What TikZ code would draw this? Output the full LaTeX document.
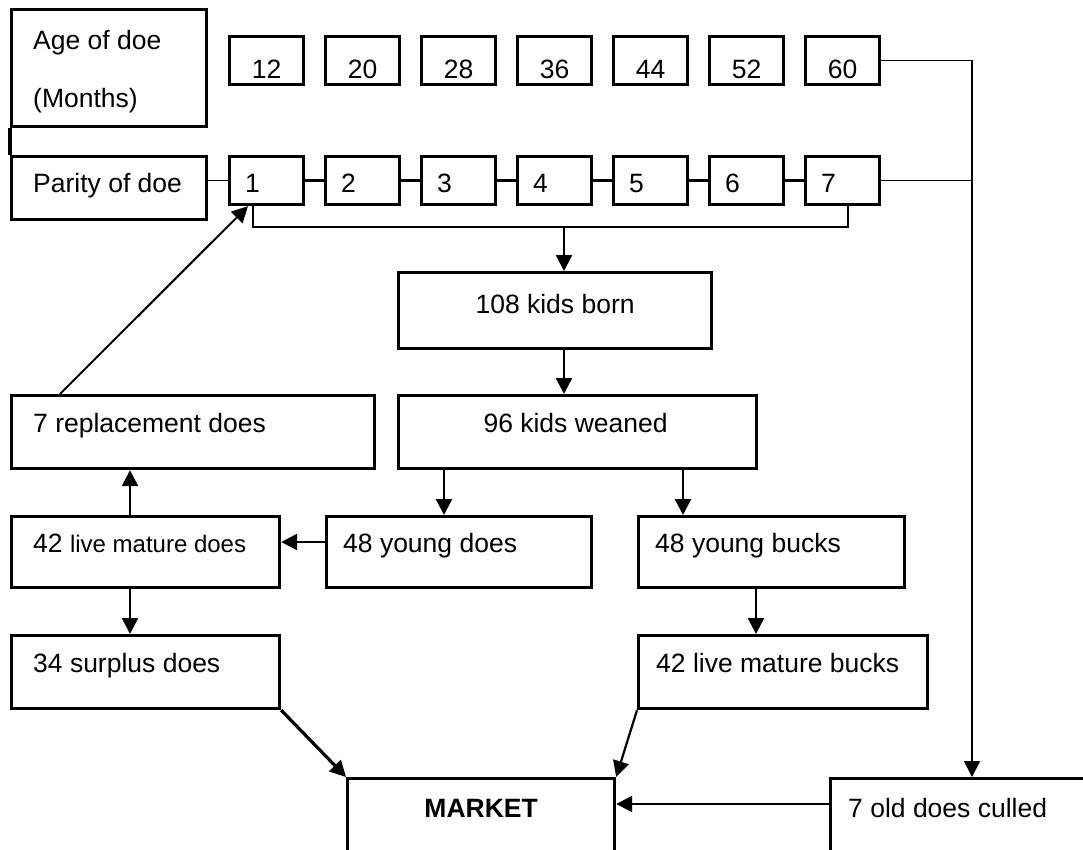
\documentclass[tikz,border=0pt]{standalone}
\usepackage{fontspec}
\setmainfont{Liberation Sans}
\usetikzlibrary{arrows.meta,calc}
\begin{document}
\begin{tikzpicture}[x=1pt,y=-1pt,
  box/.style={draw, line width=3.2pt, inner sep=0pt, anchor=north west},
  txt/.style={inner sep=0pt, font=\fontsize{26.5}{31}\selectfont},
  arr/.style={line width=2.4pt, -{Triangle[length=16pt,width=16pt]}},
  thinln/.style={line width=1.6pt},
  midln/.style={line width=2.8pt},
]
\fill[white] (0,0) rectangle (1083,850);
\useasboundingbox (0,0) rectangle (1083,850);
\clip (0,0) rectangle (1083,850);

% left header boxes
\node[box, minimum width=195pt, minimum height=117pt] (age) at (10,8) {};
\node[box, minimum width=195pt, minimum height=63pt] (par) at (10,155) {};
\node[txt, anchor=base west] (aget1) at (33,50) {Age of doe};
\node[txt, anchor=base west] (aget2) at (33,108) {(Months)};
\node[txt, anchor=base west] (part) at (33,193) {Parity of doe};

% age row
\foreach \v [count=\i from 0] in {12,20,28,36,44,52,60}{
  \node[box, minimum width=74pt, minimum height=48pt] (a\i) at (228+96*\i,35) {};
  \node[txt, anchor=base] (a\i t) at ($(a\i.south)+(0,-8)$) {\v};
}
% parity row
\foreach \v [count=\i from 0] in {1,...,7}{
  \node[box, minimum width=74pt, minimum height=48pt] (p\i) at (228+96*\i,155) {};
  \node[txt, anchor=base west] (p\i t) at ($(p\i.north west)+(17,38)$) {\v};
}

% flow boxes
\node[box, minimum width=313pt, minimum height=76pt] (b108) at (397,271) {};
\node[txt, anchor=base] (b108t) at ($(b108.north)+(0,42)$) {108 kids born};
\node[box, minimum width=358pt, minimum height=73pt] (w96) at (397,394) {};
\node[txt, anchor=base] (w96t) at ($(w96.north)+(-2,38)$) {96 kids weaned};
\node[box, minimum width=363pt, minimum height=73pt] (rep) at (10,394) {};
\node[txt, anchor=base west] (rept) at ($(rep.north west)+(23,38)$) {7 replacement does};
\node[box, minimum width=268pt, minimum height=71pt] (l42) at (10,515) {};
\node[txt, anchor=base west] (l42t) at ($(l42.north west)+(23,37)$) {42 {\fontsize{24}{28}\selectfont live mature does}};
\node[box, minimum width=265pt, minimum height=71pt] (yd) at (325,515) {};
\node[txt, anchor=base west] (ydt) at ($(yd.north west)+(18,37)$) {48 young does};
\node[box, minimum width=266pt, minimum height=71pt] (yb) at (637,515) {};
\node[txt, anchor=base west] (ybt) at ($(yb.north west)+(18,37)$) {48 young bucks};
\node[box, minimum width=268pt, minimum height=73pt] (s34) at (10,634) {};
\node[txt, anchor=base west] (s34t) at ($(s34.north west)+(23,38)$) {34 surplus does};
\node[box, minimum width=289pt, minimum height=73pt] (b42) at (637,634) {};
\node[txt, anchor=base west] (b42t) at ($(b42.north west)+(19,38)$) {42 live mature bucks};
\node[box, minimum width=267pt, minimum height=120pt] (mk) at (346,777) {};
\node[txt, anchor=base, font=\fontsize{26.5}{31}\selectfont\bfseries] (mkt) at ($(mk.north)+(0,40)$) {MARKET};
\node[box, minimum width=300pt, minimum height=120pt] (od) at (829,777) {};
\node[txt, anchor=base west] (odt) at ($(od.north west)+(19,40)$) {7 old does culled};

% helper coordinates
\coordinate (brL) at (253,227);
\coordinate (brR) at (848,227);
\coordinate (brM) at (564,227);
\coordinate (cx1) at (444,0);
\coordinate (cx2) at (683,0);
\coordinate (cx3) at (130,0);
\coordinate (cx4) at (756,0);
\coordinate (cy1) at (0,542);
\coordinate (cy2) at (0,804);
\coordinate (rt) at (972,0);

% header connectors
\draw[line width=3.2pt] (age.south west) -- (par.north west);
\draw[thinln] (par.east |- p0.west) -- (p0.west);
\foreach \i [evaluate=\i as \j using int(\i+1)] in {0,...,5}{
  \draw[midln] (p\i.east) -- (p\j.west);
}
\draw[thinln] (p0.south -| brL) -- (brL) -- (brR) -- (p6.south -| brR);
\draw[thinln] (a6.east) -- (a6.east -| rt) -- (p6.east -| rt);
\draw[thinln] (p6.east) -- (p6.east -| rt);
\draw[arr, line width=2pt] (p6.east -| rt) -- (od.north -| rt);

% flow arrows
\draw[arr] (brM) -- (b108.north -| brM);
\draw[arr] (b108.south -| brM) -- (w96.north -| brM);
\draw[arr] (w96.south -| cx1) -- (yd.north -| cx1);
\draw[arr] (w96.south -| cx2) -- (yb.north -| cx2);
\draw[arr] (yd.west |- cy1) -- (l42.east |- cy1);
\draw[arr] (l42.north -| cx3) -- (rep.south -| cx3);
\draw[arr] (l42.south -| cx3) -- (s34.north -| cx3);
\draw[arr] (yb.south -| cx4) -- (b42.north -| cx4);
\draw[arr, line width=2pt] ($(rep.north west)+(50,0)$) -- ($(p0.south west)+(20,0)$);
\draw[arr, line width=3.2pt] (s34.south east) -- (mk.north west);
\draw[arr, line width=2.2pt] (b42.south west) -- (mk.north east);
\draw[arr] (od.west |- cy2) -- (mk.east |- cy2);
\end{tikzpicture}
\end{document}
